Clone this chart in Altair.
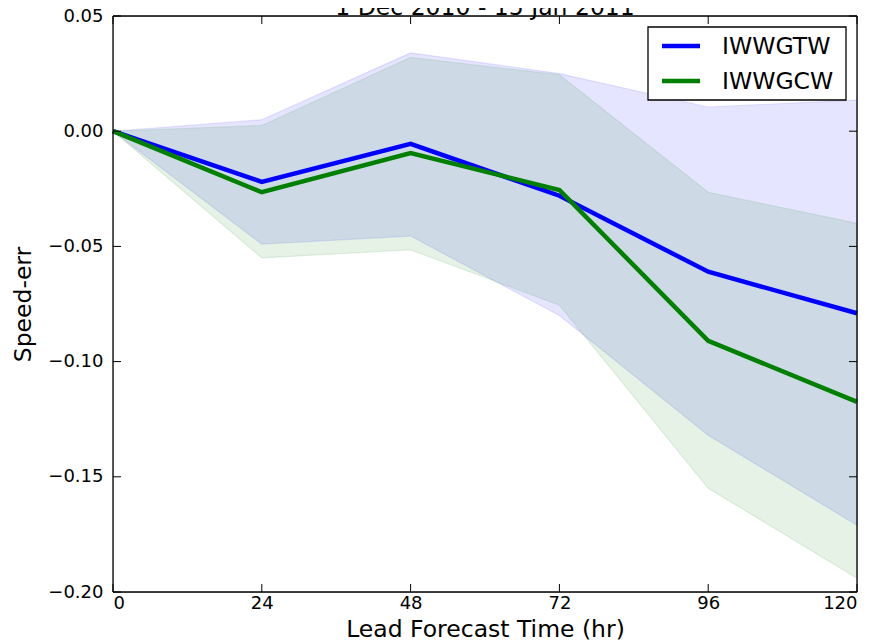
import altair as alt
import pandas as pd

hours = [0, 24, 48, 72, 96, 120]
series_names = ["IWWGTW", "IWWGCW"]
gtw_mean = [0.0, -0.022, -0.0055, -0.028, -0.061, -0.079]
gtw_lo = [0.0, -0.049, -0.0455, -0.080, -0.132, -0.171]
gtw_hi = [0.0, 0.005, 0.034, 0.025, 0.0105, 0.0135]
gcw_mean = [0.0, -0.0265, -0.0095, -0.0255, -0.091, -0.1175]
gcw_lo = [0.0, -0.055, -0.0515, -0.0755, -0.155, -0.194]
gcw_hi = [0.0, 0.0025, 0.032, 0.0245, -0.0265, -0.040]
x_ticks = [0, 24, 48, 72, 96, 120]
y_ticks = [0.05, 0.0, -0.05, -0.10, -0.15, -0.20]
title_text = "1 Dec 2010 - 15 Jan 2011"

W, H = 744, 576
FONT = "DejaVu Sans"
TICK_FS = 18
BIG_FS = 23.5

rows = []
for name, m, lo, hi in [("IWWGTW", gtw_mean, gtw_lo, gtw_hi),
                        ("IWWGCW", gcw_mean, gcw_lo, gcw_hi)]:
    for h, a, b, c in zip(hours, m, lo, hi):
        rows.append({"hour": h, "series": name, "mean": a, "lo": b, "hi": c})
df = pd.DataFrame(rows)

xs = alt.Scale(domain=[0, 120], nice=False, zero=False)
ys = alt.Scale(domain=[-0.20, 0.05], nice=False, zero=False)

x_enc = alt.X("hour:Q", scale=xs,
              axis=alt.Axis(values=x_ticks, format="d", tickSize=0, domain=False,
                            grid=False, labelPadding=2, labelFontSize=TICK_FS,
                            title="Lead Forecast Time (hr)", titleFontSize=BIG_FS,
                            titlePadding=5, titleFontWeight="normal"))
y_axis = alt.Axis(values=y_ticks, format=".2f", tickSize=0, domain=False, grid=False,
                  labelPadding=10, labelFontSize=TICK_FS, title="Speed-err",
                  titleFontSize=BIG_FS, titlePadding=12, titleFontWeight="normal")

colors = {"IWWGTW": "#0000ff", "IWWGCW": "#008000"}
cscale = alt.Scale(domain=series_names, range=[colors[n] for n in series_names])

layers = []
for name in series_names:
    sub = df[df.series == name]
    band = alt.Chart(sub).mark_area(
        color=colors[name], fillOpacity=0.1, stroke=colors[name],
        strokeOpacity=0.1, strokeWidth=1.2
    ).encode(x=x_enc, y=alt.Y("lo:Q", scale=ys, axis=y_axis), y2="hi:Q")
    layers.append(band)

lines = alt.Chart(df).mark_line(strokeWidth=4.5).encode(
    x=x_enc,
    y=alt.Y("mean:Q", scale=ys, axis=y_axis),
    color=alt.Color("series:N", scale=cscale, legend=None),
    order=alt.Order("hour:Q"),
)
layers.append(lines)

# inward ticks on all four sides
xt = pd.DataFrame({"t": x_ticks})
yt = pd.DataFrame({"v": y_ticks})
tk = dict(color="black", strokeWidth=1)
layers += [
    alt.Chart(xt).mark_rule(**tk).encode(x=alt.X("t:Q", scale=xs), y=alt.value(H), y2=alt.value(H - 8)),
    alt.Chart(xt).mark_rule(**tk).encode(x=alt.X("t:Q", scale=xs), y=alt.value(0), y2=alt.value(8)),
    alt.Chart(yt).mark_rule(**tk).encode(y=alt.Y("v:Q", scale=ys), x=alt.value(0), x2=alt.value(8)),
    alt.Chart(yt).mark_rule(**tk).encode(y=alt.Y("v:Q", scale=ys), x=alt.value(W), x2=alt.value(W - 8)),
]

# frame
fr = dict(color="black", strokeWidth=1.3)
one = pd.DataFrame({"k": [0]})
layers += [
    alt.Chart(one).mark_rule(**fr).encode(x=alt.value(0), x2=alt.value(W), y=alt.value(0)),
    alt.Chart(one).mark_rule(**fr).encode(x=alt.value(0), x2=alt.value(W), y=alt.value(H)),
    alt.Chart(one).mark_rule(**fr).encode(y=alt.value(0), y2=alt.value(H), x=alt.value(0)),
    alt.Chart(one).mark_rule(**fr).encode(y=alt.value(0), y2=alt.value(H), x=alt.value(W)),
]

# legend box (matplotlib-style, upper right)
LX0, LX1, LY0, LY1 = 535, 733, 11, 84
layers.append(
    alt.Chart(one).mark_rect(fill="white", stroke="black", strokeWidth=1.3).encode(
        x=alt.value(LX0), x2=alt.value(LX1), y=alt.value(LY0), y2=alt.value(LY1))
)
for i, name in enumerate(series_names):
    ey = 30 + 35 * i
    ldf = pd.DataFrame({"series": [name]})
    layers.append(
        alt.Chart(ldf).mark_rule(strokeWidth=4.5).encode(
            x=alt.value(549), x2=alt.value(587), y=alt.value(ey),
            color=alt.Color("series:N", scale=cscale, legend=None))
    )
    layers.append(
        alt.Chart(ldf).mark_text(align="left", baseline="middle", fontSize=BIG_FS,
                                 font=FONT, color="black").encode(
            x=alt.value(609), y=alt.value(ey + 1), text="series:N")
    )

# title (partly above the page edge as in the reference)
tdf = pd.DataFrame({"title": [title_text]})
layers.append(
    alt.Chart(tdf).mark_text(align="center", baseline="alphabetic", fontSize=BIG_FS,
                             font=FONT, color="black").encode(
        x=alt.value(W / 2), y=alt.value(-1), text="title:N")
)

chart = alt.layer(*layers).properties(
    width=W, height=H,
    autosize=alt.AutoSizeParams(type="none"),
    padding={"left": 105, "top": 8, "right": 12, "bottom": 48},
).configure_view(stroke="black", strokeWidth=1).configure(
    font=FONT
).configure_axis(labelColor="black", titleColor="black", labelFont=FONT, titleFont=FONT)

chart.save("out.html", embed_options={"renderer": "svg", "actions": False})
